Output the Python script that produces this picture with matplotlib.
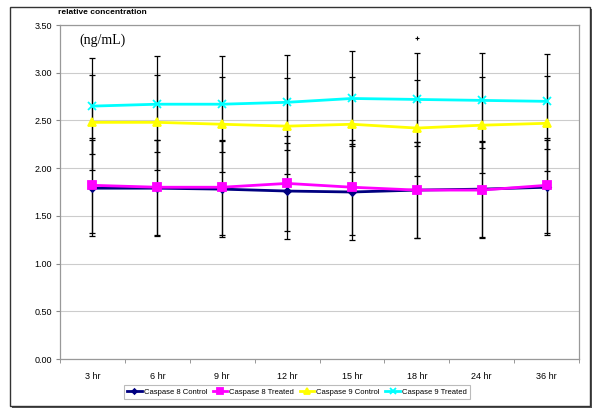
import matplotlib
matplotlib.use("Agg")
import matplotlib.pyplot as plt
from matplotlib.patches import Rectangle
import numpy as np

categories = ["3 hr", "6 hr", "9 hr", "12 hr", "15 hr", "18 hr", "24 hr", "36 hr"]
casp8_control = [1.79, 1.79, 1.78, 1.76, 1.75, 1.77, 1.78, 1.80]
casp8_treated = [1.82, 1.80, 1.80, 1.84, 1.80, 1.77, 1.77, 1.82]
casp9_control = [2.48, 2.48, 2.46, 2.44, 2.46, 2.42, 2.45, 2.47]
casp9_treated = [2.65, 2.67, 2.67, 2.69, 2.73, 2.72, 2.71, 2.70]
err8_control = [0.50, 0.50, 0.50, 0.50, 0.50, 0.50, 0.50, 0.50]
err8_treated = [0.50, 0.50, 0.50, 0.50, 0.50, 0.50, 0.50, 0.50]
err9_control = [0.50, 0.50, 0.50, 0.50, 0.50, 0.50, 0.50, 0.50]
err9_treated = [0.50, 0.50, 0.50, 0.50, 0.50, 0.49, 0.50, 0.50]
stray_cat = "18 hr"
stray_val = 3.36
yticks = [0.0, 0.5, 1.0, 1.5, 2.0, 2.5, 3.0, 3.5]

plt.rcParams['font.family'] = ['Liberation Sans', 'DejaVu Sans']

fig = plt.figure(figsize=(6.0, 4.15), dpi=100)
# outer chart frame with shadow
fig.patches.append(Rectangle((12/600, 1-408/415), 580/600, 399/415, transform=fig.transFigure,
                             facecolor='#555555', edgecolor='none', zorder=-2))
fig.patches.append(Rectangle((10/600, 1-406/415), 580/600, 399/415, transform=fig.transFigure,
                             facecolor='white', edgecolor='#333333', linewidth=1.0, zorder=-1))

ax = fig.add_axes([60/600, 1-359/415, 519/600, 334/415])
ax.set_zorder(1)
x = np.arange(len(categories))

series = [
    (casp8_control, err8_control, '#000080', 'D', 3.5, "Caspase 8 Control"),
    (casp8_treated, err8_treated, '#FF00FF', 's', 5.5, "Caspase 8 Treated"),
    (casp9_control, err9_control, '#FFFF00', '^', 6, "Caspase 9 Control"),
    (casp9_treated, err9_treated, '#00FFFF', 'x', 5.5, "Caspase 9 Treated"),
]
for vals, errs, col, mk, ms, lab in series:
    ax.errorbar(x, vals, yerr=errs, fmt='none', ecolor='black', elinewidth=0.9,
                capsize=2.4, capthick=0.9, zorder=2)
for vals, errs, col, mk, ms, lab in series:
    ax.plot(x, vals, color=col, marker=mk, markersize=ms, linewidth=2.0,
            markeredgecolor=col, markeredgewidth=1.3, label=lab, zorder=3)

ax.plot([categories.index(stray_cat)], [stray_val], marker='+', color='black',
        markersize=3, markeredgewidth=0.8, linestyle='none', zorder=3)

ax.set_xlim(-0.5, len(categories) - 0.5)
ax.set_ylim(0, 3.5)
ax.set_yticks(yticks)
ax.set_yticklabels([f"{v:.2f}" for v in yticks], fontsize=6.5)
ax.set_xticks(x)
ax.set_xticklabels(categories, fontsize=6.5)
ax.set_xticks(np.arange(-0.5, len(categories), 1.0), minor=True)
ax.tick_params(axis='x', which='major', length=0, pad=9)
ax.tick_params(axis='x', which='minor', length=3, color='#888888')
ax.tick_params(axis='y', length=3, color='#888888', pad=3)
ax.grid(axis='y', color='#cccccc', linewidth=0.8)
ax.set_axisbelow(True)
for s in ax.spines.values():
    s.set_color('#999999')
    s.set_linewidth(0.9)

fig.text(58/600, 1-12/415, "relative concentration", fontsize=6.0, fontweight='bold',
         va='center', ha='left')
ax.text(0.038, 0.955, "(ng/mL)", transform=ax.transAxes, fontsize=10,
        family=['Liberation Serif', 'DejaVu Serif'], va='center', ha='left')

leg = fig.legend(loc='center', bbox_to_anchor=(297/600, 1-392/415), ncol=4, fontsize=5.5,
                 frameon=True, fancybox=False, edgecolor='#aaaaaa', handlelength=1.9,
                 columnspacing=0.7, handletextpad=0.3, borderpad=0.4, markerscale=0.7)
leg.get_frame().set_linewidth(0.8)

fig.savefig("out.png", dpi=100)
